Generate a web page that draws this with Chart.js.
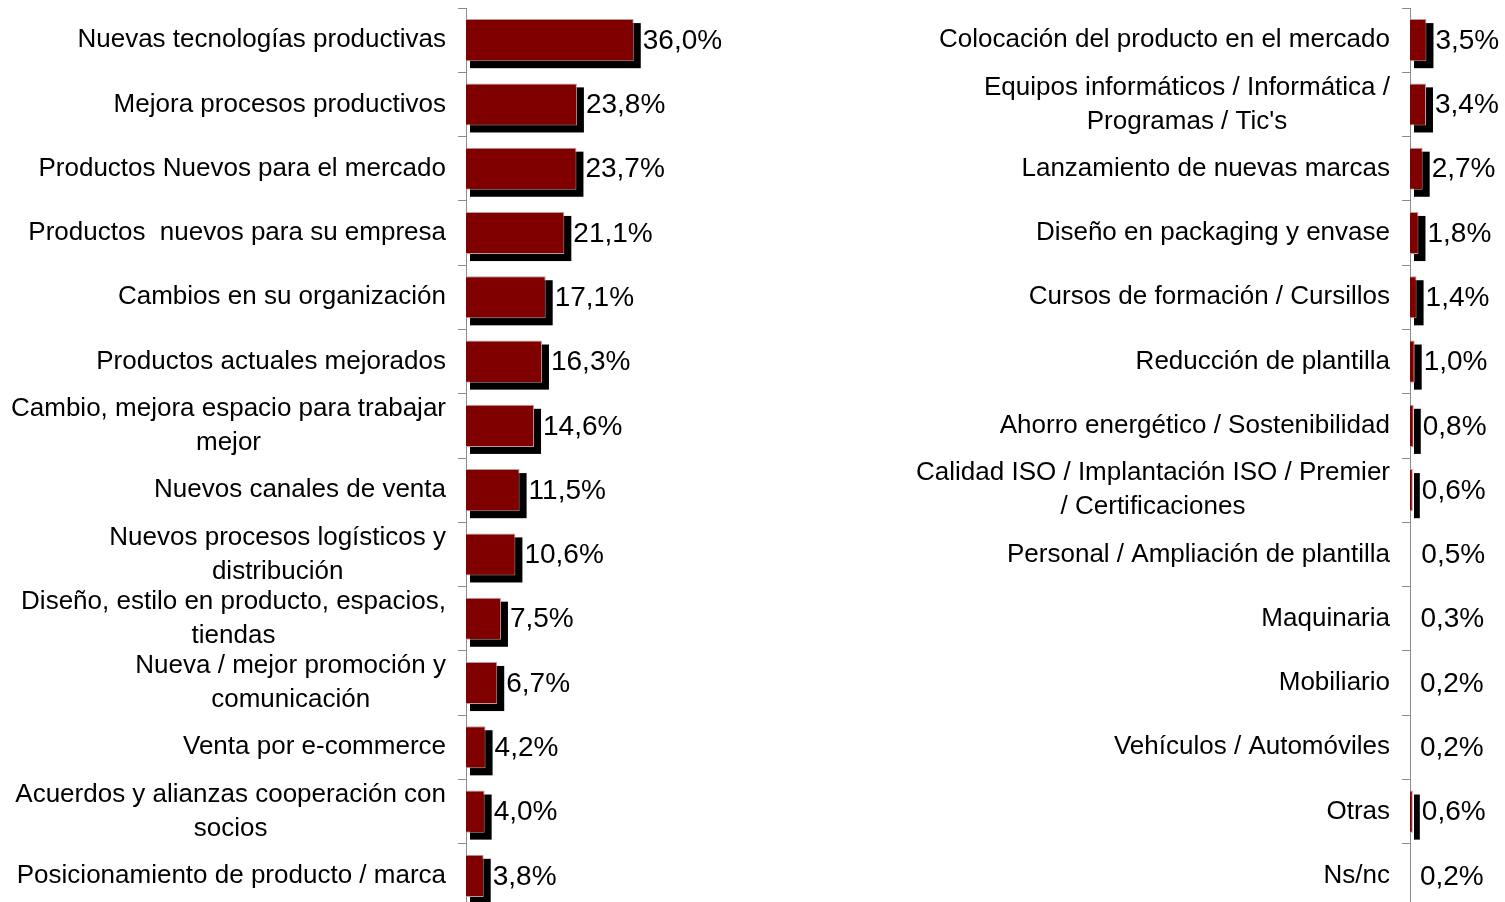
<!DOCTYPE html>
<html>
<head>
<meta charset="utf-8">
<script src="https://cdn.jsdelivr.net/npm/chart.js@4/dist/chart.umd.min.js"></script>
<style>
  html, body { margin: 0; padding: 0; background: #fff; overflow: hidden; width: 1505px; height: 902px; }
  canvas { position: absolute; top: 0; }
  #left { left: 0; }
  #right { left: 760px; }
</style>
</head>
<body>
<canvas id="left" width="760" height="910"></canvas>
<canvas id="right" width="745" height="910"></canvas>
<script>
// ---- Data ----
const leftCategories = [
  ["Nuevas tecnologías productivas"],
  ["Mejora procesos productivos"],
  ["Productos Nuevos para el mercado"],
  ["Productos  nuevos para su empresa"],
  ["Cambios en su organización"],
  ["Productos actuales mejorados"],
  ["Cambio, mejora espacio para trabajar", "mejor"],
  ["Nuevos canales de venta"],
  ["Nuevos procesos logísticos y", "distribución"],
  ["Diseño, estilo en producto, espacios,", "tiendas"],
  ["Nueva / mejor promoción y", "comunicación"],
  ["Venta por e-commerce"],
  ["Acuerdos y alianzas cooperación con", "socios"],
  ["Posicionamiento de producto / marca"]
];
const leftValues = [36.0, 23.8, 23.7, 21.1, 17.1, 16.3, 14.6, 11.5, 10.6, 7.5, 6.7, 4.2, 4.0, 3.8];
const leftBars   = [36.0, 23.8, 23.7, 21.1, 17.1, 16.3, 14.6, 11.5, 10.6, 7.5, 6.7, 4.2, 4.0, 3.8];

const rightCategories = [
  ["Colocación del producto en el mercado"],
  ["Equipos informáticos / Informática /", "Programas / Tic's"],
  ["Lanzamiento de nuevas marcas"],
  ["Diseño en packaging y envase"],
  ["Cursos de formación / Cursillos"],
  ["Reducción de plantilla"],
  ["Ahorro energético / Sostenibilidad"],
  ["Calidad ISO / Implantación ISO / Premier", "/ Certificaciones"],
  ["Personal / Ampliación de plantilla"],
  ["Maquinaria"],
  ["Mobiliario"],
  ["Vehículos / Automóviles"],
  ["Otras"],
  ["Ns/nc"]
];
const rightValues = [3.5, 3.4, 2.7, 1.8, 1.4, 1.0, 0.8, 0.6, 0.5, 0.3, 0.2, 0.2, 0.6, 0.2];
// bars as they appear in the picture (tiny ones not drawn)
const rightBars   = [3.5, 3.4, 2.7, 1.8, 1.4, 1.0, 0.8, 0.6, null, null, null, null, 0.6, null];

// ---- Styles ----
const FONT = '"Liberation Sans", Arial, sans-serif';
const CAT_SIZE = 26;
const PCT_SIZE = 28;
const LINE_H = 34;
const BAR_COLOR = '#800000';
const AXIS_COLOR = '#8c8c8c';

function fmt(v) { return v.toFixed(1).replace('.', ',') + '%'; }

const decorPlugin = {
  id: 'decor',
  beforeDatasetsDraw(chart) {
    const ctx = chart.ctx;
    const meta = chart.getDatasetMeta(0);
    ctx.save();
    ctx.fillStyle = '#000';
    meta.data.forEach((el, i) => {
      const v = chart.data.datasets[0].data[i];
      if (v === null || v === undefined) return;
      const p = el.getProps(['x', 'y', 'base', 'height'], true);
      const x0 = Math.min(p.base, p.x), x1 = Math.max(p.base, p.x);
      const y0 = p.y - p.height / 2, y1 = p.y + p.height / 2;
      ctx.fillRect(x0 + 4, y0 + 4, (x1 + 7) - (x0 + 4), (y1 + 7) - (y0 + 4));
    });
    ctx.restore();
  },
  afterDraw(chart) {
    const ctx = chart.ctx;
    const opts = chart.options.plugins.decor;
    const xs = chart.scales.x, ys = chart.scales.y;
    ctx.save();
    // percentage labels
    ctx.fillStyle = '#000';
    ctx.font = PCT_SIZE + 'px ' + FONT;
    ctx.textAlign = 'left';
    ctx.textBaseline = 'middle';
    opts.values.forEach((v, i) => {
      const x = xs.getPixelForValue(v) + 9;
      const y = ys.getPixelForValue(i);
      ctx.fillText(fmt(v), x, y + 1);
    });
    // category labels
    ctx.font = CAT_SIZE + 'px ' + FONT;
    ctx.textAlign = 'center';
    const right = chart.chartArea.left - 20;
    opts.categories.forEach((lines, i) => {
      const w = Math.max(...lines.map(l => ctx.measureText(l).width));
      const cx = right - w / 2;
      const cy = ys.getPixelForValue(i);
      const top = cy - (lines.length - 1) * LINE_H / 2;
      lines.forEach((l, k) => ctx.fillText(l, cx, top + k * LINE_H));
    });
    ctx.restore();
  }
};

function makeChart(id, categories, values, bars, axisX, xMax) {
  return new Chart(document.getElementById(id), {
    type: 'bar',
    data: {
      labels: categories.map(c => c.join(' ')),
      datasets: [{
        data: bars,
        backgroundColor: BAR_COLOR,
        borderColor: '#c09a9a',
        borderWidth: 1,
        barPercentage: 0.655,
        categoryPercentage: 1.0
      }]
    },
    options: {
      indexAxis: 'y',
      responsive: false,
      animation: false,
      layout: { padding: { top: 8, bottom: 2, left: 0, right: 0 } },
      plugins: {
        legend: { display: false },
        tooltip: { enabled: false },
        decor: { values: values, categories: categories }
      },
      scales: {
        x: { type: 'linear', min: 0, max: xMax, display: false },
        y: {
          type: 'category',
          position: 'left',
          offset: true,
          grid: { display: true, offset: true, drawOnChartArea: false, drawTicks: true, tickLength: 8, color: AXIS_COLOR, lineWidth: 1 },
          border: { display: true, color: AXIS_COLOR, width: 1 },
          ticks: { display: false },
          afterFit(scale) { scale.width = axisX; }
        }
      }
    },
    plugins: [decorPlugin]
  });
}

makeChart('left', leftCategories, leftValues, leftBars, 466, 294 / 4.66);
makeChart('right', rightCategories, rightValues, rightBars, 650, 95 / 4.7);
</script>
</body>
</html>
